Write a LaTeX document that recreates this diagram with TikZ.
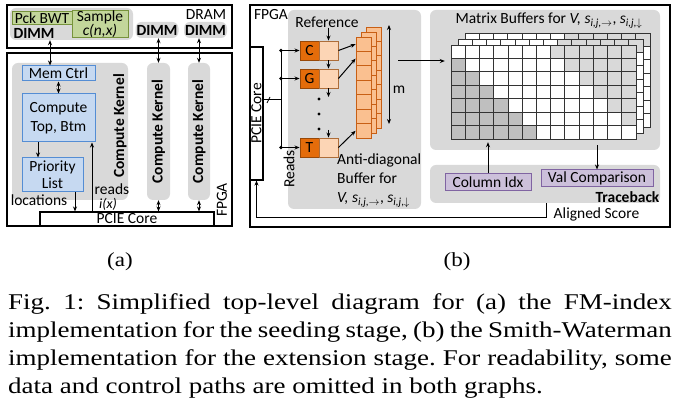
\documentclass[tikz,border=0pt]{standalone}
\usepackage{fontspec}
\setmainfont{Carlito}
\newfontfamily\capfont{Liberation Serif}
\usetikzlibrary{arrows.meta,positioning}

\newcommand\diagfont{\fontsize{15.5}{17}\selectfont}
\definecolor{panelgray}{RGB}{217,217,217}
\definecolor{bluefill}{RGB}{198,217,241}
\definecolor{blueline}{RGB}{84,141,212}
\definecolor{greenfill}{RGB}{195,214,155}
\definecolor{greenline}{RGB}{119,147,60}
\definecolor{basefill}{RGB}{228,108,10}
\definecolor{baseline}{RGB}{152,72,7}
\definecolor{buffill}{RGB}{252,213,181}
\definecolor{adfill}{RGB}{250,192,144}
\definecolor{adline}{RGB}{200,95,20}
\definecolor{purplefill}{RGB}{204,192,218}
\definecolor{purpleline}{RGB}{128,100,162}
\colorlet{cell0}{white}
\definecolor{cell1}{RGB}{191,191,191}
\definecolor{cell2}{RGB}{217,217,217}

\begin{document}
\begin{tikzpicture}[x=1pt,y=-1pt,font=\diagfont]
 \tikzset{directed/.style={-{Stealth[length=5pt,width=4pt]}, line width=1pt},
  bidirected/.style={{Stealth[length=5pt,width=4pt]}-{Stealth[length=5pt,width=4pt]}, line width=1pt},
  frame/.style={draw, line width=1.1pt, inner sep=0},
  panel/.style={fill=panelgray, rounded corners=6pt, inner sep=0},
  bluebox/.style={draw=blueline, fill=bluefill, line width=1pt, inner sep=0, align=center},
  greenbox/.style={draw=greenline, fill=greenfill, line width=1pt, inner sep=0, align=center},
  purplebox/.style={draw=purpleline, fill=purplefill, line width=1pt, inner sep=0},
  basebox/.style={draw=baseline, fill=basefill, line width=0.9pt, minimum size=19, inner sep=0},
  bufbox/.style={draw=baseline!80, fill=buffill, line width=0.9pt, minimum size=19, inner sep=0},
  adcell/.style={draw=adline, fill=adfill, line width=0.8pt, minimum width=15, minimum height=14.43, inner sep=0},
  kerntext/.style={rotate=90, font=\diagfont\bfseries, inner sep=0},
  mxgrid/.style={draw=black!80, line width=0.8pt}}
 \useasboundingbox (0,0) rectangle (686,419);

 % (a)
 \node[frame, minimum width=225, minimum height=43] (dram) at (119.5,26.5) {};
 \node[panel, minimum width=123, minimum height=32] (dimmgrp) at (71.5,24) {};
 \node[greenbox, minimum width=60, minimum height=13] (pbwt) at (42,18.5) {Pck BWT};
 \node[greenbox, minimum width=56, minimum height=27, font=\fontsize{15.5}{14}\selectfont] (sample) at (100,24.5) {Sample\\\textit{c(n,x)}};
 \node[font=\diagfont\bfseries, inner sep=0] (dimm1) at (34,33) {DIMM};
 \node[panel, font=\diagfont\bfseries, inner xsep=1pt, minimum height=16] (dimm2) at (157,30) {DIMM};
 \node[panel, font=\diagfont\bfseries, inner xsep=1pt, minimum height=16] (dimm3) at (205.5,30) {DIMM};
 \node[inner sep=0] (dram lbl) at (206,15) {DRAM};

 \node[frame, minimum width=225, minimum height=173] (fpgaA) at (119.5,139.5) {};
 \node[panel, minimum width=116, minimum height=137] (kern1) at (70,131.5) {};
 \node[bluebox, minimum width=73, minimum height=15] (memctrl) at (58.5,73.5) {Mem Ctrl};
 \node[bluebox, minimum width=73, minimum height=48] (topbtm) at (58.5,118) {Compute\\[2pt]Top, Btm};
 \node[bluebox, minimum width=61, minimum height=34] (prio) at (52.5,175) {Priority\\List};
 \node[kerntext] (kern1 lbl) at (120,126) {Compute Kernel};
 \node[panel, minimum width=23, minimum height=137] (kern2) at (158.5,131.5) {};
 \node[kerntext] (kern2 lbl) at (kern2) {Compute Kernel};
 \node[panel, minimum width=22, minimum height=137] (kern3) at (199,131.5) {};
 \node[kerntext] (kern3 lbl) at (kern3) {Compute Kernel};
 \node[frame, fill=white, minimum width=174, minimum height=14] (pcieA) at (127,219) {PCIE Core};
 \node[rotate=90, inner sep=0] (fpgaA lbl) at (222,200) {FPGA};
 \node[inner sep=0] (loc lbl) at (39,200) {locations};
 \node[inner sep=0] (reads lbl) at (112,189) {reads};
 \node[inner sep=0, font=\fontsize{14}{15}\selectfont\itshape] (ix lbl) at (108,204.5) {i(x)};

 \coordinate (xa) at (50,0);
 \coordinate (xc) at (38,0);
 \coordinate (xd) at (75,0);
 \coordinate (xe) at (92,0);
 \draw[bidirected] (dimmgrp.south -| xa) -- (memctrl.north -| xa);
 \draw[bidirected] (kern2.north |- dimm2.south) -- (kern2.north);
 \draw[bidirected] (kern3.north |- dimm3.south) -- (kern3.north);
 \draw[bidirected] (memctrl.south) -- (topbtm.north);
 \draw[directed] (topbtm.south -| xc) -- (prio.north -| xc);
 \draw[directed] (prio.south -| xd) -- (pcieA.north -| xd);
 \draw[directed] (pcieA.north -| xe) -- (topbtm.south -| xe);
 \draw[bidirected] (kern2.south) -- (kern2.south |- pcieA.north);
 \draw[bidirected] (kern3.south) -- (kern3.south |- pcieA.north);

 % (b)
 \node[frame, minimum width=420, minimum height=222] (fpgaB) at (460,116) {};
 \node[inner sep=0] (fpgaB lbl) at (271,15) {FPGA};
 \node[panel, minimum width=133, minimum height=199] (adpanel) at (354.5,109.5) {};
 \node[panel, minimum width=230, minimum height=140] (mxpanel) at (545,80) {};
 \node[panel, minimum width=230, minimum height=38] (tbpanel) at (545,184) {};
 \node[frame, fill=white, minimum width=13, minimum height=133] (pcieB) at (256.5,113.5) {};
 \node[rotate=90, inner sep=0] (pcieB lbl) at (pcieB) {PCIE Core};

 \node[inner sep=0] (ref lbl) at (327,22) {Reference};
 \node[basebox] (C) at (309.5,50.5) {C};
 \node[bufbox] (Cbuf) at (328.5,50.5) {};
 \node[basebox] (G) at (309.5,78.5) {G};
 \node[bufbox] (Gbuf) at (328.5,78.5) {};
 \node[basebox] (T) at (309.5,147.5) {T};
 \node[bufbox] (Tbuf) at (328.5,147.5) {};
 \draw[directed] (ref lbl.south -| Cbuf) -- (Cbuf.north);
 \draw[directed] (Cbuf.south) -- (Gbuf.north);
 \coordinate (gdown) at (328.5,97);
 \coordinate (tup) at (328.5,130);
 \draw[directed] (Gbuf.south) -- (gdown);
 \draw[directed] (tup) -- (Tbuf.north);
 \foreach \y in {99,114,129}
  \fill (319,\y) circle (1.7pt);

 \coordinate (bus) at (281,0);
 \coordinate (pin) at (0,100);
 \draw[line width=1pt] (C.west -| bus) -- (T.west -| bus);
 \foreach \b in {C,G,T} {
  \fill (\b.west -| bus) circle (1.8pt);
  \draw[directed] (\b.west -| bus) -- (\b.west);
 }
 \draw[line width=1pt] (pcieB.east |- pin) -- (bus |- pin);
 \draw[line width=0.8pt] ([xshift=5pt]pcieB.east |- pin) +(-1.5,3) -- +(1.5,-3);
 \node[rotate=90, inner sep=0] (reads lblB) at (289,169) {Reads};

 \foreach \k in {2,1}
  \foreach \r in {1,...,7}
   \node[adcell] (ad\k-\r) at (363.5+5*\k, 44.2+14.43*\r-14.43-5*\k) {};
 \foreach \r in {1,...,7}
  \node[adcell] (ad\r) at (363.5, 44.2+14.43*\r-14.43) {};
 \draw[directed] (Cbuf.east) -- (ad1.west);
 \draw[directed] (Gbuf.east) -- (ad2.west);
 \draw[directed] (Tbuf.east) -- (ad7.west);
 \coordinate (mtop) at (389,25);
 \coordinate (mbot) at (389,124);
 \draw[bidirected] (mtop) -- (mbot);
 \node[inner sep=0] (m lbl) at (399,90) {m};
 \node[anchor=north west, align=left, inner sep=0, font=\fontsize{15.5}{19}\selectfont] (ad lbl) at (337,154)
  {Anti-diagonal\\Buffer for\\\textit{V, s}\textsubscript{\textit{i,j},$\rightarrow$}, \textit{s}\textsubscript{\textit{i,j},$\downarrow$}};

 \node[inner sep=0] (mx lbl) at (549,21)
  {Matrix Buffers for \textit{V, s}\textsubscript{\textit{i,j},$\rightarrow$}, \textit{s}\textsubscript{\textit{i,j},$\downarrow$}};
 \def\cw{14.23}
 \def\ch{13.43}
 \foreach \k in {2,1}
  \foreach \r in {0,...,6}
   \foreach \c in {0,...,12} {
    \pgfmathtruncatemacro\shade{and(\r==0,\c>6)*2}
    \draw[mxgrid, fill=cell\shade] (451+\c*\cw+7*\k, 45+\r*\ch-6*\k) rectangle ++(\cw,\ch);
   }
 \foreach \r in {0,...,6}
  \foreach \c in {0,...,12} {
   \pgfmathtruncatemacro\shade{ifthenelse(\c<\r,1,ifthenelse(\c-\r>6,2,0))}
   \draw[mxgrid, fill=cell\shade] (451+\c*\cw, 45+\r*\ch) rectangle ++(\cw,\ch);
  }
 \node[minimum width=185, minimum height=94, inner sep=0] (mxfront) at (543.5,92) {};
 \coordinate (adout) at (398,61);
 \draw[directed, shorten >=6pt] (adout) -- (adout -| mxfront.west);

 \node[purplebox, minimum width=86, minimum height=17] (colidx) at (488,182.5) {Column Idx};
 \node[purplebox, minimum width=112, minimum height=17] (valcmp) at (597,178.5) {Val Comparison};
 \node[font=\diagfont\bfseries, inner sep=0] (tb lbl) at (627.5,197) {Traceback};
 \node[inner sep=0] (as lbl) at (596.5,214) {Aligned Score};
 \draw[directed, shorten >=3pt] (colidx.north) -- (colidx.north |- mxfront.south);
 \draw[directed, shorten <=6pt] (valcmp.north |- mxfront.south) -- (valcmp.north);
 \coordinate (asc) at (546,218);
 \draw[directed] (tbpanel.south -| asc) -- (asc) -| (pcieB.south);

 % captions
 \node[inner sep=0, font=\capfont\fontsize{20}{24}\selectfont] (sub a) at (120,262) {\scalebox{1.15}[1]{(a)}};
 \node[inner sep=0, font=\capfont\fontsize{20}{24}\selectfont] (sub b) at (457,262) {\scalebox{1.15}[1]{(b)}};
 \node[anchor=base west, inner sep=0] (caption) at (8,310) {\scalebox{1.2}[1]{\capfont\fontsize{22.5}{27.7}\selectfont\frenchspacing\parbox[t]{553pt}{%
  \makebox[\linewidth][s]{Fig. 1: Simplified top-level diagram for (a) the FM-index}\\
  \makebox[\linewidth][s]{implementation for the seeding stage, (b) the Smith-Waterman}\\
  \makebox[\linewidth][s]{implementation for the extension stage. For readability, some}\\
  data and control paths are omitted in both graphs.}}};
\end{tikzpicture}
\end{document}
